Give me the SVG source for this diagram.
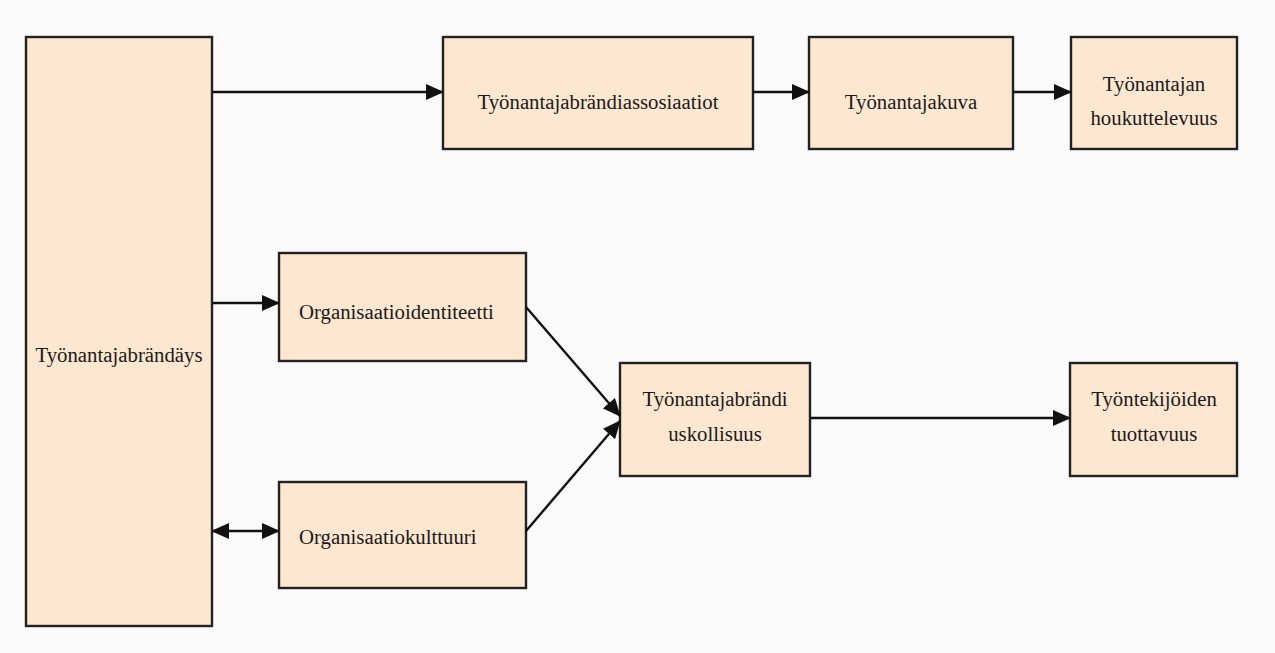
<svg xmlns="http://www.w3.org/2000/svg" width="1275" height="653" viewBox="0 0 1275 653">
<style>
.box{fill:#fde7d0;stroke:#222;stroke-width:2.4}
.t{font-family:"Liberation Serif","Times New Roman",serif;font-size:20.8px;fill:#1a1a1a}
.c{text-anchor:middle}
.ln{stroke:#111;stroke-width:2.4;fill:none}
</style>
<defs>
<marker id="ah" markerWidth="18" markerHeight="16" refX="17" refY="8" orient="auto" markerUnits="userSpaceOnUse">
<path d="M0,0 L18,8 L0,16 Z" fill="#111"/>
</marker>
<marker id="as" markerWidth="18" markerHeight="16" refX="1" refY="8" orient="auto" markerUnits="userSpaceOnUse">
<path d="M18,0 L0,8 L18,16 Z" fill="#111"/>
</marker>
</defs>
<rect width="1275" height="653" fill="#fafafa"/>
<g id="n1"><rect class="box" x="26" y="37" width="186" height="589"/><text class="t c" x="119" y="362">Työnantajabrändäys</text></g>
<g id="n2"><rect class="box" x="443" y="37" width="310" height="112"/><text class="t c" x="598" y="109">Työnantajabrändiassosiaatiot</text></g>
<g id="n3"><rect class="box" x="809" y="37" width="204" height="112"/><text class="t c" x="911" y="109">Työnantajakuva</text></g>
<g id="n4"><rect class="box" x="1071" y="37" width="166" height="112"/><text class="t c" x="1154" y="91">Työnantajan</text><text class="t c" x="1154" y="125">houkuttelevuus</text></g>
<g id="n5"><rect class="box" x="279" y="253" width="247" height="108"/><text class="t" x="299" y="319">Organisaatioidentiteetti</text></g>
<g id="n6"><rect class="box" x="279" y="482" width="247" height="106"/><text class="t" x="299" y="544">Organisaatiokulttuuri</text></g>
<g id="n7"><rect class="box" x="620" y="363" width="190" height="113"/><text class="t c" x="715" y="406">Työnantajabrändi</text><text class="t c" x="715" y="441">uskollisuus</text></g>
<g id="n8"><rect class="box" x="1070" y="363" width="167" height="113"/><text class="t c" x="1154" y="406">Työntekijöiden</text><text class="t c" x="1154" y="441">tuottavuus</text></g>
<g id="edges">
<line class="ln" x1="212" y1="92" x2="443" y2="92" marker-end="url(#ah)"/>
<line class="ln" x1="753" y1="92" x2="809" y2="92" marker-end="url(#ah)"/>
<line class="ln" x1="1013" y1="92" x2="1071" y2="92" marker-end="url(#ah)"/>
<line class="ln" x1="212" y1="303" x2="279" y2="303" marker-end="url(#ah)"/>
<line class="ln" x1="212" y1="531" x2="279" y2="531" marker-start="url(#as)" marker-end="url(#ah)"/>
<line class="ln" x1="526" y1="307" x2="620" y2="416" marker-end="url(#ah)"/>
<line class="ln" x1="526" y1="531" x2="620" y2="421" marker-end="url(#ah)"/>
<line class="ln" x1="810" y1="418" x2="1070" y2="418" marker-end="url(#ah)"/>
</g>
</svg>
